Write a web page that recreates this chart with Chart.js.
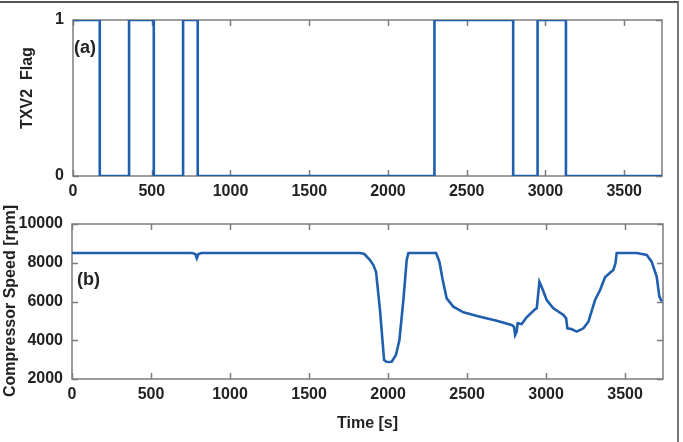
<!DOCTYPE html>
<html>
<head>
<meta charset="utf-8">
<script src="https://cdn.jsdelivr.net/npm/chart.js@4.4.1/dist/chart.umd.min.js"></script>
<style>
  body { margin: 0; background: #fff; }
  .page { position: relative; width: 683px; height: 442px; background: #fff; overflow: hidden; }
  .edge { position: absolute; left: 0; top: 1px; width: 677px; height: 441px;
          border-top: 2px solid #555; border-right: 2px solid #777; }
  .panel { position: absolute; left: 0; width: 683px; }
  #top { top: 0; height: 200px; }
  #bottom { top: 200px; height: 242px; }
</style>
</head>
<body>
<div class="page">
  <div class="panel" id="top"><canvas id="flagChart"></canvas></div>
  <div class="panel" id="bottom"><canvas id="speedChart"></canvas></div>
  <div class="edge"></div>
</div>
<script>
// (a) TXV2 flag, switching times [s] and values
const flagTime  = [0, 170, 356, 513, 699, 792, 2295, 2795, 2950, 3130, 3740];
const flagValue = [1, 0, 1, 0, 1, 0, 1, 0, 1, 0, 0];

// (b) compressor speed [rpm]
const speedTime = [0, 760, 780, 790, 800, 820, 1823, 1850, 1886, 1907, 1924, 1949, 1975, 1992,
  2023, 2050, 2072, 2097, 2118, 2129, 2304, 2325, 2346, 2371, 2413, 2477, 2582, 2688, 2782,
  2797, 2804, 2814, 2820, 2846, 2877, 2930, 2941, 2958, 2972, 3004, 3046, 3110, 3127, 3135,
  3160, 3194, 3236, 3268, 3310, 3342, 3373, 3405, 3426, 3439, 3447, 3574, 3637, 3668, 3700,
  3717, 3732];
const speedValue = [8500, 8500, 8450, 8230, 8450, 8500, 8500, 8450, 8142, 7884, 7538, 5561,
  2980, 2880, 2890, 3240, 4013, 6077, 8142, 8500, 8500, 8055, 7110, 6164, 5733, 5440, 5217,
  5010, 4787, 4700, 4271, 4443, 4874, 4840, 5184, 5596, 5650, 7023, 6765, 6077, 5647, 5303,
  5131, 4615, 4580, 4443, 4615, 4959, 6077, 6594, 7250, 7487, 7626, 7970, 8500, 8500, 8400,
  8055, 7282, 6250, 6000];

const xTicks = [0, 500, 1000, 1500, 2000, 2500, 3000, 3500];
const flagTicks = [0, 1];
const speedTicks = [2000, 4000, 6000, 8000, 10000];

const FONT = 'Arial, "Liberation Sans", sans-serif';
const LINE = '#1f5fae';
const INK = '#222';

// matlab style box with inward ticks, plus rotated y title and panel tag
const boxPlugin = {
  id: 'box',
  beforeDatasetsDraw(chart, args, opts) {
    const { ctx, chartArea: a, scales: { x, y } } = chart;
    ctx.save();
    ctx.strokeStyle = '#7d7d7d';
    ctx.lineWidth = 1.5;
    ctx.strokeRect(a.left, a.top, a.right - a.left, a.bottom - a.top);
    ctx.beginPath();
    x.ticks.forEach(t => {
      const px = Math.round(x.getPixelForValue(t.value)) + 0.5;
      ctx.moveTo(px, a.bottom); ctx.lineTo(px, a.bottom - 6);
      ctx.moveTo(px, a.top); ctx.lineTo(px, a.top + 6);
    });
    y.ticks.forEach(t => {
      const py = Math.round(y.getPixelForValue(t.value)) + 0.5;
      ctx.moveTo(a.left, py); ctx.lineTo(a.left + 6, py);
      ctx.moveTo(a.right, py); ctx.lineTo(a.right - 6, py);
    });
    ctx.stroke();

    ctx.fillStyle = INK;
    ctx.font = 'bold 16px ' + FONT;
    ctx.textAlign = 'center';
    ctx.textBaseline = 'middle';
    ctx.translate(opts.titleX, opts.titleY);
    ctx.rotate(-Math.PI / 2);
    ctx.fillText(opts.title, 0, 0);
    ctx.restore();

    ctx.save();
    ctx.fillStyle = INK;
    ctx.font = 'bold 18px ' + FONT;
    ctx.textAlign = 'left';
    ctx.textBaseline = 'middle';
    ctx.fillText(opts.tag, opts.tagX, opts.tagY);
    ctx.restore();
  }
};

function tickFont() {
  return { family: FONT, size: 16, weight: 'bold' };
}

function makeChart(id, xs, ys, o) {
  const points = xs.map((t, i) => ({ x: t, y: ys[i] }));
  return new Chart(document.getElementById(id), {
    type: 'line',
    data: {
      datasets: [{
        data: points,
        borderColor: LINE,
        borderWidth: 2.6,
        pointRadius: 0,
        tension: 0,
        stepped: o.stepped || false
      }]
    },
    options: {
      responsive: true,
      maintainAspectRatio: false,
      animation: false,
      layout: { padding: { top: o.padTop, right: o.padRight, bottom: 0, left: 0 } },
      plugins: {
        legend: { display: false },
        tooltip: { enabled: false },
        box: o.box
      },
      scales: {
        x: {
          type: 'linear',
          min: 0,
          max: 3740,
          afterBuildTicks: s => { s.ticks = xTicks.map(v => ({ value: v })); },
          afterFit: s => { s.height = o.xHeight; },
          grid: { display: false, drawTicks: false },
          border: { display: false },
          ticks: { font: tickFont(), color: INK, padding: 6, maxRotation: 0, autoSkip: false,
                   callback: v => String(v) },
          title: o.xTitle ? {
            display: true, text: o.xTitle, color: INK,
            font: { family: FONT, size: 16, weight: 'bold' },
            padding: { top: 0, bottom: 9 }
          } : { display: false }
        },
        y: {
          type: 'linear',
          min: o.yMin,
          max: o.yMax,
          afterBuildTicks: s => { s.ticks = o.yTicks.map(v => ({ value: v })); },
          afterFit: s => { s.width = o.yWidth; },
          grid: { display: false, drawTicks: false },
          border: { display: false },
          ticks: { font: tickFont(), color: INK, padding: 9, autoSkip: false,
                   callback: v => String(v) }
        }
      }
    },
    plugins: [boxPlugin]
  });
}

makeChart('flagChart', flagTime, flagValue, {
  stepped: true,
  padTop: 20, padRight: 21, xHeight: 24, yWidth: 73,
  yMin: 0, yMax: 1, yTicks: flagTicks,
  box: { title: 'TXV2  Flag', titleX: 28, titleY: 88, tag: '(a)', tagX: 74, tagY: 48 }
});

makeChart('speedChart', speedTime, speedValue, {
  padTop: 24, padRight: 20, xHeight: 63, yWidth: 72,
  yMin: 2000, yMax: 10000, yTicks: speedTicks,
  xTitle: 'Time [s]',
  box: { title: 'Compressor Speed [rpm]', titleX: 11, titleY: 101, tag: '(b)', tagX: 77, tagY: 80 }
});
</script>
</body>
</html>
